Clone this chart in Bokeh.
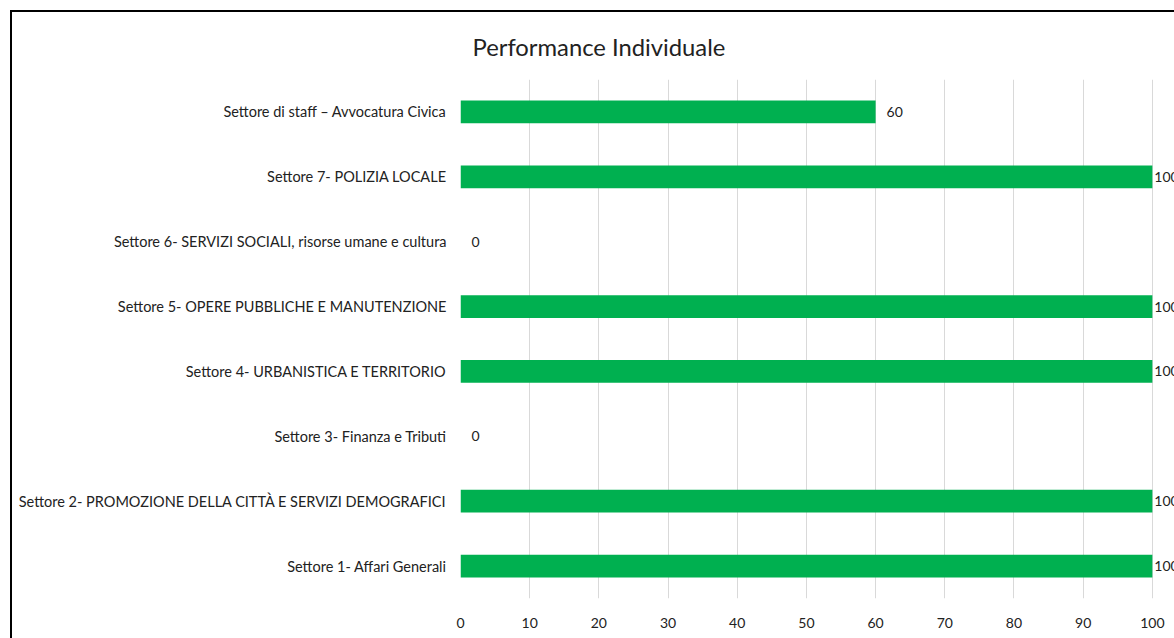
from bokeh.plotting import figure, ColumnDataSource
from bokeh.models import Range1d, FactorRange, FixedTicker
from bokeh.layouts import column
from bokeh.core.properties import value
from bokeh.embed import file_html
from bokeh.resources import INLINE

# ---- data (bottom to top) ----
categories = [
    "Settore 1- Affari Generali",
    "Settore 2- PROMOZIONE DELLA CITTÀ E SERVIZI DEMOGRAFICI",
    "Settore 3- Finanza e Tributi",
    "Settore 4- URBANISTICA E TERRITORIO",
    "Settore 5- OPERE PUBBLICHE E MANUTENZIONE",
    "Settore 6- SERVIZI SOCIALI, risorse umane e cultura",
    "Settore 7- POLIZIA LOCALE",
    "Settore di staff – Avvocatura Civica",
]
values = [100, 100, 0, 100, 100, 0, 100, 60]
x_ticks = [0, 10, 20, 30, 40, 50, 60, 70, 80, 90, 100]
title_text = "Performance Individuale"

FONT = "Lato"
TXT = "#222222"
GREEN = "#00B050"

src = ColumnDataSource(dict(cat=categories, val=values, lbl=[str(v) for v in values]))
full_idx = [i for i, v in enumerate(values) if v >= 100]
part_idx = [i for i, v in enumerate(values) if v < 100]
src_full = ColumnDataSource(dict(cat=[categories[i] for i in full_idx],
                                 val=[values[i] for i in full_idx],
                                 lbl=[str(values[i]) for i in full_idx]))
src_part = ColumnDataSource(dict(cat=[categories[i] for i in part_idx],
                                 val=[values[i] for i in part_idx],
                                 lbl=[str(values[i]) for i in part_idx]))

p = figure(width=1162, height=626, output_backend="svg", toolbar_location=None,
           x_range=Range1d(0, 103.2), y_range=FactorRange(*categories, range_padding=0),
           min_border_left=448, min_border_right=0, min_border_top=66, min_border_bottom=40)

p.hbar(y="cat", left=0, right="val", height=0.35, fill_color=GREEN, line_color=None,
       source=src)
p.text(x="val", y="cat", text="lbl", source=src_part, x_offset=11, text_baseline="middle",
       text_font=value(FONT), text_font_size="14px", text_color=TXT)
p.text(x="val", y="cat", text="lbl", source=src_full, x_offset=2, text_baseline="middle",
       text_font=value(FONT), text_font_size="14px", text_color=TXT)

p.title.text = title_text
p.title.text_font = FONT
p.title.text_font_size = "23.8px"
p.title.text_font_style = "normal"
p.title.text_color = TXT
p.title.align = "left"
p.title.offset = 12
p.title.standoff = 37

p.outline_line_color = None
p.background_fill_color = "white"
p.border_fill_color = "white"

p.xaxis.ticker = FixedTicker(ticks=x_ticks)
p.xaxis.axis_line_color = None
p.xaxis.major_tick_line_color = None
p.xaxis.minor_tick_line_color = None
p.xaxis.major_label_standoff = 13
p.xaxis.major_label_text_font = FONT
p.xaxis.major_label_text_font_size = "14px"
p.xaxis.major_label_text_color = TXT

p.yaxis.axis_line_color = None
p.yaxis.major_tick_line_color = None
p.yaxis.minor_tick_line_color = None
p.yaxis.major_tick_out = 0
p.yaxis.major_tick_in = 0
p.yaxis.major_label_standoff = 14
p.yaxis.major_label_text_font = FONT
p.yaxis.major_label_text_font_size = "14.5px"
p.yaxis.major_label_text_color = TXT

p.xgrid.grid_line_color = "#D9D9D9"
p.xgrid.grid_line_width = 1
p.ygrid.grid_line_color = None

layout = column(p, styles={"border-left": "2px solid #000000",
                           "border-top": "2px solid #000000",
                           "margin-left": "10px", "margin-top": "10px"})

open("out.html", "w").write(file_html(layout, INLINE))
